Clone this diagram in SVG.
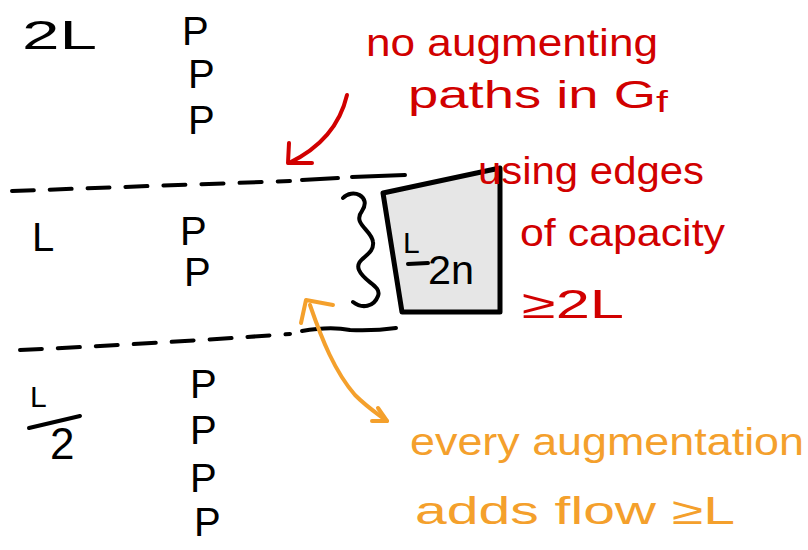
<svg xmlns="http://www.w3.org/2000/svg" width="808" height="550" viewBox="0 0 808 550">
<style>
  text { font-family: "Liberation Sans", "DejaVu Sans", sans-serif; }
  .ink { fill: #000; }
  .red { fill: #d10000; }
  .org { fill: #f4a02c; }
  .s { fill: none; stroke-linecap: round; stroke-linejoin: round; }
  .blk { stroke: #000; stroke-width: 4; }
  .rs { stroke: #d10000; stroke-width: 4; }
  .os { stroke: #f4a02c; stroke-width: 4; }
  .dash { stroke-dasharray: 22 16; }
  .p { font-size: 40px; }
</style>
<rect width="808" height="550" fill="#fff"/>

<g id="levels">
  <path class="s blk dash" d="M12,191 Q150,186 290,181"/>
  <path class="s blk" d="M302,180 L338,178 M352,177 L405,175"/>
  <path class="s blk dash" d="M20,350 Q150,344 290,334"/>
  <path class="s blk" d="M302,331 Q330,326 350,330 Q375,331 396,328"/>
</g>

<g id="label-2L"><text class="ink" x="22" y="49" font-size="40" textLength="75" lengthAdjust="spacingAndGlyphs">2L</text></g>
<g id="label-L"><text class="ink" x="32" y="251" font-size="40">L</text></g>
<g id="label-L2">
  <text class="ink" x="30" y="407" font-size="30">L</text>
  <path class="s blk" d="M29,428 L80,416"/>
  <text class="ink" x="50" y="459" font-size="44">2</text>
</g>

<g id="paths-2L">
  <text class="ink p" x="182" y="45">P</text>
  <text class="ink p" x="188" y="88">P</text>
  <text class="ink p" x="188" y="134">P</text>
</g>
<g id="paths-L">
  <text class="ink p" x="180" y="245">P</text>
  <text class="ink p" x="184" y="286">P</text>
</g>
<g id="paths-L2">
  <text class="ink p" x="190" y="398">P</text>
  <text class="ink p" x="190" y="444">P</text>
  <text class="ink p" x="190" y="492">P</text>
  <text class="ink p" x="194" y="536">P</text>
</g>

<g id="box">
  <path d="M383,193 L500,168 L500,312 L402,312 Z" fill="#e6e6e6" stroke="#000" stroke-width="5" stroke-linejoin="round"/>
  <text class="ink" x="403" y="253" font-size="30">L</text>
  <path class="s blk" d="M408,264 L428,263"/>
  <text class="ink" x="428" y="284" font-size="40" textLength="46" lengthAdjust="spacingAndGlyphs">2n</text>
</g>

<g id="brace">
  <path class="s blk" d="M343,198 C352,188 372,196 362,211 C352,224 372,230 373,242 C375,256 354,258 359,270 C364,282 382,286 378,296 C374,307 362,309 353,302"/>
</g>

<g id="connectors">
  <path class="s rs" d="M347,95 C340,125 320,148 289,163"/>
  <path class="s rs" d="M289,143 L288,163 L312,163"/>
  <path class="s os" d="M310,305 C322,340 335,372 355,395 C368,408 378,414 387,421"/>
  <path class="s os" d="M301,323 L306,300 L333,305"/>
  <path class="s os" d="M378,408 L387,421 L372,421"/>
</g>

<g id="note-red">
  <text class="red" x="366" y="56" font-size="38" textLength="292" lengthAdjust="spacingAndGlyphs">no augmenting</text>
  <text class="red" x="408" y="108" font-size="38" textLength="260" lengthAdjust="spacingAndGlyphs">paths in G<tspan font-size="30" dy="4">f</tspan></text>
  <text class="red" x="478" y="184" font-size="38" textLength="226" lengthAdjust="spacingAndGlyphs">using edges</text>
  <text class="red" x="520" y="246" font-size="38" textLength="205" lengthAdjust="spacingAndGlyphs">of capacity</text>
  <text class="red" x="522" y="318" font-size="40" textLength="102" lengthAdjust="spacingAndGlyphs">≥2L</text>
</g>

<g id="note-orange">
  <text class="org" x="410" y="455" font-size="38" textLength="394" lengthAdjust="spacingAndGlyphs">every augmentation</text>
  <text class="org" x="415" y="524" font-size="38" textLength="320" lengthAdjust="spacingAndGlyphs">adds flow ≥L</text>
</g>
</svg>
